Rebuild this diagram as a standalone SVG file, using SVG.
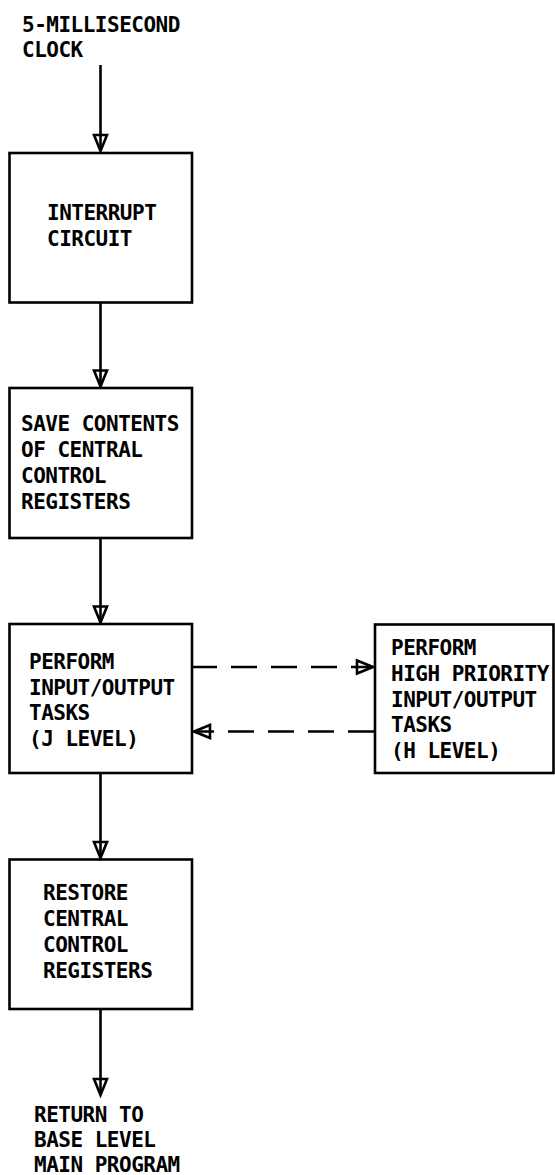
<svg xmlns="http://www.w3.org/2000/svg" width="555" height="1175" viewBox="0 0 555 1175">
<style>
.box{fill:#fff;stroke:#000;stroke-width:2.6}
.ln{fill:none;stroke:#000;stroke-width:2.6}
.dash{fill:none;stroke:#000;stroke-width:2.6;stroke-dasharray:26 14}
text{font-family:"DejaVu Sans Mono","Liberation Mono",monospace;font-weight:bold;font-size:21px;letter-spacing:-0.5px;fill:#000}
</style>
<defs>
<marker id="ah" markerUnits="userSpaceOnUse" markerWidth="22" markerHeight="18" viewBox="-18 -9 22 18" refX="0" refY="0" orient="auto" overflow="visible">
<path d="M0,0 L-16,-6.5 L-16,6.5 Z" fill="none" stroke="#000" stroke-width="2.6" stroke-linejoin="miter"/>
</marker>
</defs>
<g id="connectors">
<line class="ln" x1="100.5" y1="65" x2="100.5" y2="151" marker-end="url(#ah)"/>
<line class="ln" x1="100.5" y1="302.5" x2="100.5" y2="386.5" marker-end="url(#ah)"/>
<line class="ln" x1="100.5" y1="538" x2="100.5" y2="622.5" marker-end="url(#ah)"/>
<line class="ln" x1="100.5" y1="773" x2="100.5" y2="858" marker-end="url(#ah)"/>
<line class="ln" x1="100.5" y1="1009" x2="100.5" y2="1095" marker-end="url(#ah)"/>
<line class="dash" x1="191" y1="667" x2="373" y2="667" marker-end="url(#ah)"/>
<line class="dash" x1="374" y1="731.5" x2="194" y2="731.5" marker-end="url(#ah)"/>
</g>
<g id="clock">
<text x="22" y="32">5-MILLISECOND</text>
<text x="22" y="57">CLOCK</text>
</g>
<g id="interrupt">
<rect class="box" x="9.5" y="153" width="182.5" height="149.5"/>
<text x="47" y="220">INTERRUPT</text>
<text x="47" y="246">CIRCUIT</text>
</g>
<g id="save">
<rect class="box" x="9.5" y="388" width="182.5" height="150"/>
<text x="21" y="431">SAVE CONTENTS</text>
<text x="21" y="457">OF CENTRAL</text>
<text x="21" y="483">CONTROL</text>
<text x="21" y="509">REGISTERS</text>
</g>
<g id="perform-j">
<rect class="box" x="9.5" y="624" width="182.5" height="149"/>
<text x="29" y="669">PERFORM</text>
<text x="29" y="695">INPUT/OUTPUT</text>
<text x="29" y="720">TASKS</text>
<text x="29" y="746">(J LEVEL)</text>
</g>
<g id="perform-h">
<rect class="box" x="375" y="624.5" width="178.5" height="148.5"/>
<text x="391" y="655">PERFORM</text>
<text x="391" y="681">HIGH PRIORITY</text>
<text x="391" y="707">INPUT/OUTPUT</text>
<text x="391" y="732">TASKS</text>
<text x="391" y="758">(H LEVEL)</text>
</g>
<g id="restore">
<rect class="box" x="9.5" y="859.5" width="182.5" height="149.5"/>
<text x="43" y="900">RESTORE</text>
<text x="43" y="926">CENTRAL</text>
<text x="43" y="952">CONTROL</text>
<text x="43" y="978">REGISTERS</text>
</g>
<g id="return">
<text x="34" y="1122">RETURN TO</text>
<text x="34" y="1147">BASE LEVEL</text>
<text x="34" y="1172">MAIN PROGRAM</text>
</g>
</svg>
